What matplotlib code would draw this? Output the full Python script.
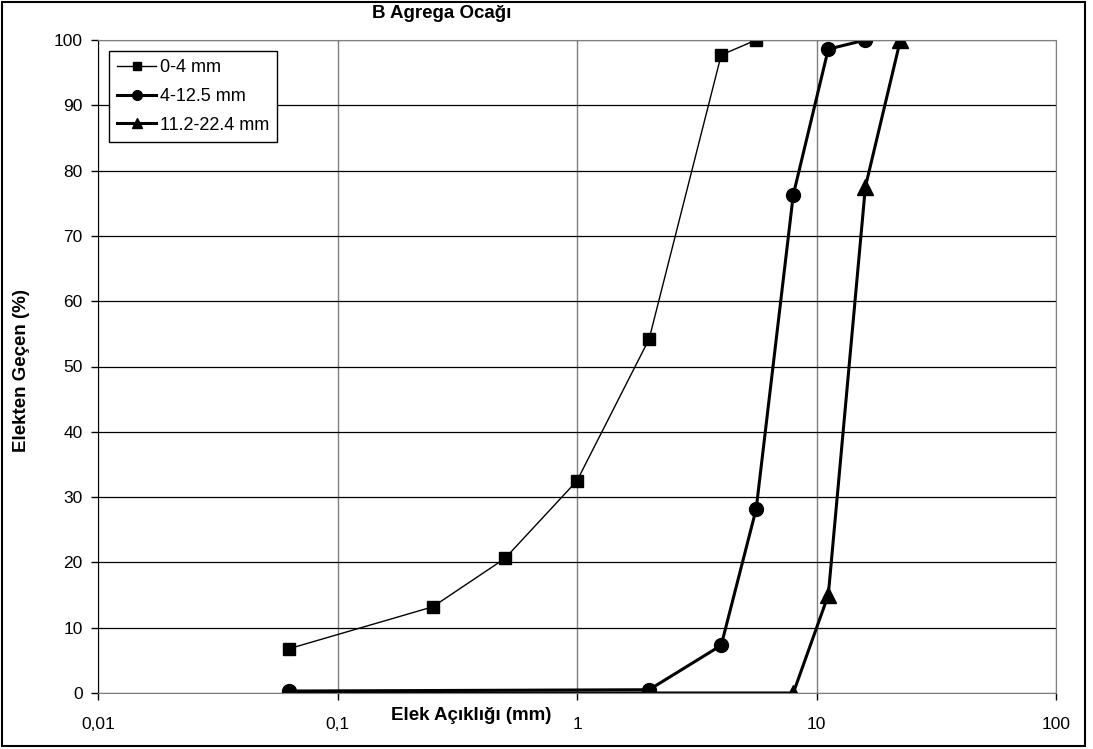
import matplotlib.pyplot as plt
from matplotlib.patches import Rectangle

plt.rcParams['font.family'] = ['Liberation Sans', 'DejaVu Sans']

# Veriler
elek_04 = [0.063, 0.25, 0.5, 1, 2, 4, 5.6]
gecen_04 = [6.8, 13.2, 20.6, 32.5, 54.2, 97.7, 100]

elek_412 = [0.063, 2, 4, 5.6, 8, 11.2, 16]
gecen_412 = [0.3, 0.5, 7.3, 28.2, 76.3, 98.6, 100]

elek_1122 = [0.063, 8, 11.2, 16, 22.4]
gecen_1122 = [0, 0, 15, 77.5, 100]

x_ticks = [0.01, 0.1, 1, 10, 100]
x_labels = ["0,01", "0,1", "1", "10", "100"]

fig = plt.figure(figsize=(10.93, 7.49), dpi=100)
ax = fig.add_axes([98/1093, 1 - 693/749, (1056 - 98)/1093, (693 - 40)/749])

ax.plot(elek_04, gecen_04, color='black', lw=1, marker='s', ms=9, label='0-4 mm')
ax.plot(elek_412, gecen_412, color='black', lw=2.2, marker='o', ms=10, label='4-12.5 mm')
ax.plot(elek_1122, gecen_1122, color='black', lw=2.2, marker='^', ms=11, label='11.2-22.4 mm')

ax.set_xscale('log')
ax.set_xlim(0.01, 100)
ax.set_ylim(0, 100)
ax.set_xticks(x_ticks)
ax.set_xticklabels(x_labels)
ax.minorticks_off()
ax.set_yticks(range(0, 101, 10))
ax.tick_params(labelsize=12.5, length=5, width=1, direction='out', pad=6)
ax.tick_params(axis='x', pad=12)

ax.yaxis.grid(True, color='black', lw=0.9)
ax.xaxis.grid(True, color='gray', lw=1)
for s in ['top', 'right', 'bottom']:
    ax.spines[s].set_color('gray')
ax.spines['left'].set_color('black')

fig.text(22/1093, 1 - 371/749, 'Elekten Geçen (%)', fontsize=13.5, fontweight='bold',
         rotation=90, ha='center', va='center')
fig.text(471/1093, 1 - 716/749, 'Elek Açıklığı (mm)', fontsize=13.5, fontweight='bold',
         ha='center', va='center')
fig.text(442/1093, 1 - 13/749, 'B Agrega Ocağı', fontsize=13.5, fontweight='bold',
         ha='center', va='center')

leg = ax.legend(loc='upper left', bbox_to_anchor=(0.011, 0.983), fontsize=13,
                frameon=True, fancybox=False, edgecolor='black', framealpha=1,
                handlelength=2.2, handletextpad=0.2, borderpad=0.45, labelspacing=0.65,
                markerscale=0.7, borderaxespad=0)
leg.get_frame().set_linewidth(1)

fig.patches.append(Rectangle((2/1093, 1 - 746/749), 1083/1093, 744/749,
                             transform=fig.transFigure, fill=False, edgecolor='black', lw=1.5))

plt.savefig('out.png', dpi=100)
